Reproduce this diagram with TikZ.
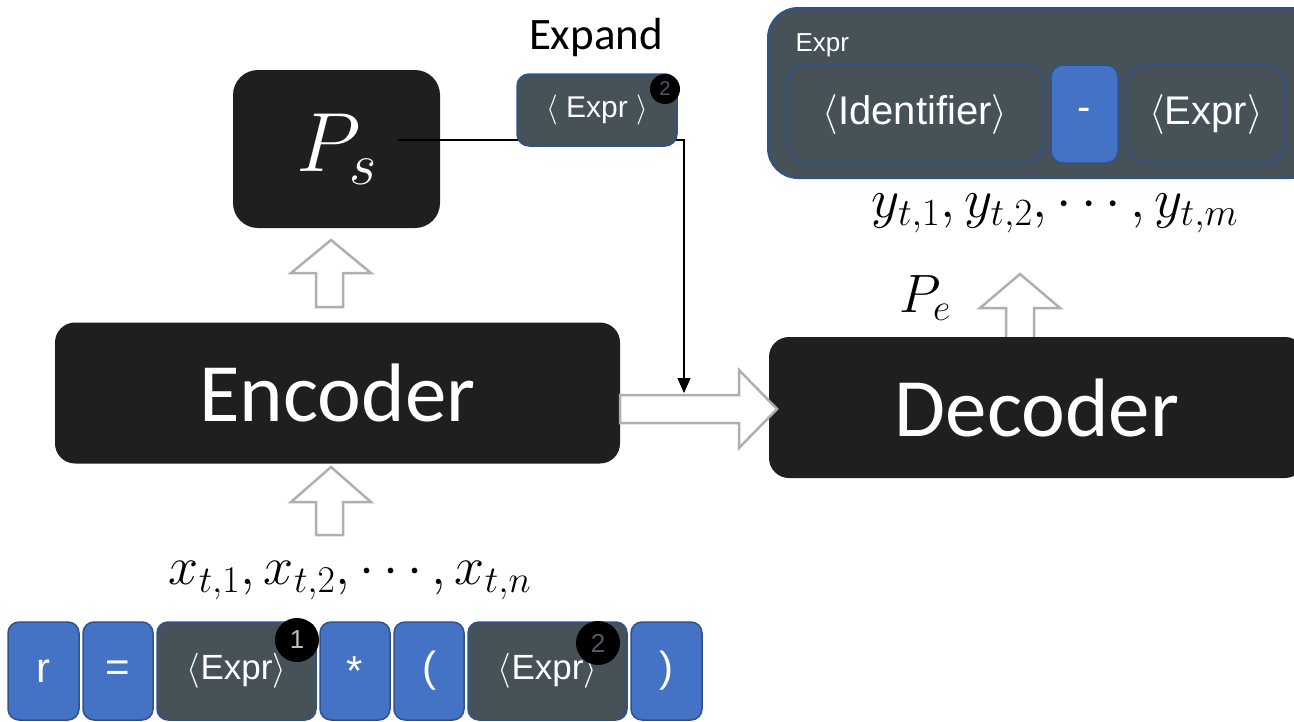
\RequirePackage{fix-cm}
\documentclass[tikz,border=0pt]{standalone}
\usepackage{fontspec}
\setmainfont{Liberation Sans}
\newfontfamily\calibri{Carlito}
\usepackage{tikz}
\usetikzlibrary{positioning,calc,arrows.meta}
\definecolor{blkfill}{HTML}{1F1F1F}
\definecolor{slate}{HTML}{465158}
\definecolor{tokblue}{HTML}{4472C4}
\definecolor{edgeblue}{HTML}{2F528F}
\definecolor{arrgray}{HTML}{AFAFAF}
\definecolor{badgenum}{HTML}{4F5A64}

\begin{document}
\begin{tikzpicture}[x=1pt,y=-1pt,
    blk/.style={fill=blkfill, rounded corners=20pt, text=white, inner sep=0pt},
    tok/.style={fill=tokblue, draw=edgeblue, line width=1.5pt, rounded corners=11pt,
      text=white, minimum height=98pt, inner sep=0pt, font=\fontsize{42}{42}\selectfont},
    nt/.style={tok, fill=slate, font=\fontsize{35}{35}\selectfont},
    badge/.style={circle, fill=black, inner sep=0pt, text=badgenum},
    hollow/.style={draw=arrgray, fill=white, line width=2.5pt, line join=miter}]
  \clip (0,0) rectangle (1294,721);

  % P_s and the expand link
  \node[blk, rounded corners=25pt, minimum width=207pt, minimum height=158pt,
    font=\fontsize{84}{84}\selectfont] (ps) at (336.5,149) {$P_s$};
  \coordinate (tap) at (398,140);
  \coordinate (drop) at (684,393);
  \draw[line width=1.2pt, -{Triangle[length=15pt,width=13pt]}] (tap) -| (drop);
  \node[font=\calibri\fontsize{45}{45}\selectfont] (explbl) at (596,37) {Expand};
  \node[nt, minimum width=160pt, minimum height=72pt, rounded corners=12pt,
    font=\fontsize{30}{30}\selectfont] (expbox) at (597,110) {$\langle$ Expr $\rangle$};
  \node[badge, minimum size=30pt, font=\fontsize{20}{20}\selectfont] (b0) at (665,89) {2};

  % encoder / decoder
  \node[blk, minimum width=565pt, minimum height=141pt,
    font=\calibri\fontsize{83}{83}\selectfont] (enc) at (337.5,393) {Encoder};
  \draw[hollow] (316,307) -- (316,273) -- (291,273) -- (331,240) -- (371,273) -- (343,273) -- (343,307) -- cycle;
  \draw[hollow] (316,535) -- (316,502) -- (291,502) -- (331,467) -- (371,502) -- (343,502) -- (343,535) -- cycle;
  \draw[hollow] (1006,345) -- (1006,308) -- (980,308) -- (1020,274) -- (1060,308) -- (1034,308) -- (1034,345) -- cycle;
  \node[blk, minimum width=536pt, minimum height=141pt,
    font=\calibri\fontsize{83}{83}\selectfont] (dec) at (1037,407.5) {Decoder};
  \draw[hollow] (620,395) -- (739,395) -- (739,370) -- (777,409) -- (739,448) -- (739,423) -- (620,423) -- cycle;
  \node[font=\fontsize{54}{54}\selectfont] (pe) at (925,298) {$P_e$};

  % expanded rule
  \node[nt, minimum width=552pt, minimum height=170pt, rounded corners=30pt,
    line width=2pt] (rule) at (1044,93) {};
  \node[text=white, anchor=west, font=\fontsize{26}{26}\selectfont] (rulelbl) at (792,45) {Expr};
  \node[nt, minimum width=256pt, minimum height=98pt, rounded corners=20pt,
    font=\fontsize{40}{40}\selectfont] (ident) at (915,114) {$\langle$Identifier$\rangle$};
  \node[tok, minimum width=67pt, rounded corners=12pt,
    font=\fontsize{40}{40}\selectfont] (minus) at (1084.5,114) {-};
  \node[nt, minimum width=158pt, rounded corners=20pt,
    font=\fontsize{40}{40}\selectfont] (rexpr) at (1206,114) {$\langle$Expr$\rangle$};
  \node[font=\fontsize{55}{55}\selectfont] (ylbl) at (1055,213) {$y_{t,1}, y_{t,2}, \cdots, y_{t,m}$};

  % input tokens
  \node[font=\fontsize{54}{54}\selectfont] (xlbl) at (350,580) {$x_{t,1}, x_{t,2}, \cdots, x_{t,n}$};
  \node[tok, minimum width=71pt] (t1) at (43.5,671) {r};
  \node[tok, minimum width=70pt, right=2.5pt of t1] (t2) {=};
  \node[nt, minimum width=159pt, right=2.5pt of t2] (t3) {$\langle$Expr$\rangle$};
  \node[tok, minimum width=70pt, right=2.5pt of t3] (t4) {*};
  \node[tok, minimum width=70pt, right=2.5pt of t4] (t5) {(};
  \node[nt, minimum width=159pt, right=2.5pt of t5] (t6) {$\langle$Expr$\rangle$};
  \node[tok, minimum width=71pt, right=2.5pt of t6] (t7) {)};
  \node[badge, minimum size=44pt, text=lightgray, font=\fontsize{26}{26}\selectfont] (b1) at (297,640) {1};
  \node[badge, minimum size=44pt, font=\fontsize{26}{26}\selectfont] (b2) at (598,643) {2};
\end{tikzpicture}
\end{document}
